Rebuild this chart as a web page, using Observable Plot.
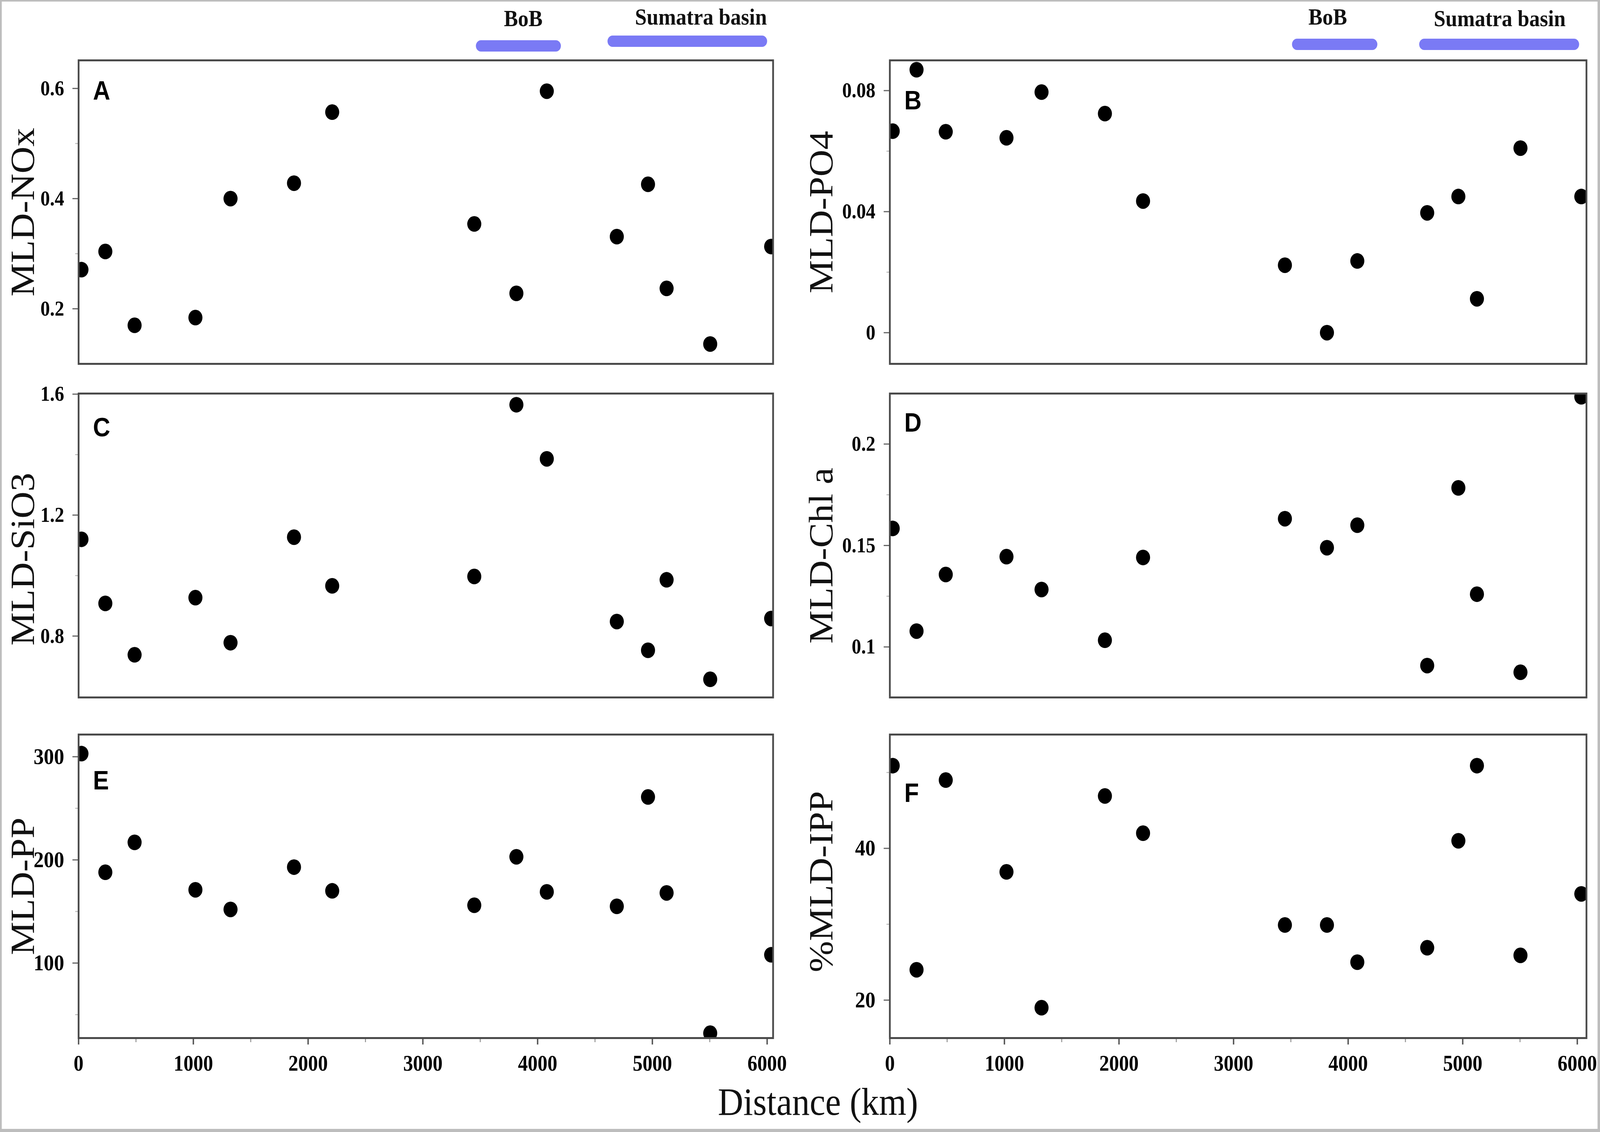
<!DOCTYPE html>
<html>
<head>
<meta charset="utf-8">
<script src="https://cdn.jsdelivr.net/npm/d3@7"></script>
<script src="https://cdn.jsdelivr.net/npm/@observablehq/plot@0.6"></script>
<style>
  html, body { margin: 0; padding: 0; background: #fff; overflow: hidden; }
  #page { position: relative; width: 4550px; height: 2898px; background: #fff; overflow: hidden; transform-origin: 0 0; }
  #border { position: absolute; left: 0; top: 0; width: 4550px; height: 2898px; box-sizing: border-box;
            border-style: solid; border-color: #bdbdbd; border-width: 4px 7px 8px 5px; pointer-events: none; }
  .panel { position: absolute; }
  #xtitle { position: absolute; left: 2326px; top: 2771px; transform: translateX(-50%);
            font-family: "Liberation Serif", serif; font-size: 100px; line-height: 1; white-space: nowrap; color: #111; }
</style>
</head>
<body>
<div id="page">
  <div id="xtitle">Distance (km)</div>
  <div id="border"></div>
</div>
<script>
// ---- data ----
const distance = [25, 233, 488, 1018, 1324, 1877, 2210, 3448, 3815, 4080, 4690, 4962, 5124, 5504, 6035];
const nox  = [0.271, 0.304, 0.170, 0.184, 0.400, 0.428, 0.557, 0.354, 0.228, 0.595, 0.331, 0.426, 0.237, 0.136, 0.313];
const po4  = [0.0666, 0.0869, 0.0664, 0.0644, 0.0795, 0.0724, 0.0435, 0.0223, 0.0, 0.0237, 0.0396, 0.0450, 0.0112, 0.0610, 0.0450];
const sio3 = [1.120, 0.908, 0.738, 0.927, 0.778, 1.127, 0.966, 0.997, 1.565, 1.386, 0.848, 0.753, 0.986, 0.657, 0.858];
const chla = [0.1584, 0.1078, 0.1357, 0.1445, 0.1283, 0.1033, 0.1441, 0.1632, 0.1489, 0.1600, 0.0908, 0.1784, 0.1260, 0.0875, 0.2233];
const pp   = [303, 188, 217, 171, 152, 193, 170, 156, 203, 169, 155, 261, 168, 32, 108];
const ipp  = [50.9, 24.0, 49.0, 36.9, 19.0, 46.9, 42.0, 29.9, 29.9, 25.0, 26.9, 41.0, 50.9, 25.9, 34.0];

const xTicks = [0, 1000, 2000, 3000, 4000, 5000, 6000];
const xMinorTicks = [500, 1500, 2500, 3500, 4500, 5500];

const regionNames = ["BoB", "Sumatra basin"];
const regionStartA = [3508, 4655], regionEndA = [4160, 5957], regionLabelA = [3875, 5423];
const regionStartB = [3556, 4666], regionEndB = [4212, 5973], regionLabelB = [3822, 5323];

const table = (vals) => distance.map((d, i) => ({distance: d, value: vals[i]}));
const regions = (s, e, l) => regionNames.map((n, i) => ({name: n, start: s[i], end: e[i], labelX: l[i]}));

// ---- layout (designed on a 4550 x 2898 page) ----
const cols = [
  {left: 0,    width: 2275, marginLeft: 223, marginRight: 77, labelDx: -127, xMax: 6052},
  {left: 2275, width: 2275, marginLeft: 255, marginRight: 39, labelDx: -163, xMax: 6080}
];
const rows = [
  {top: 0,    height: 960, marginTop: 154, marginBottom: 29},
  {top: 960,  height: 880, marginTop: 47,  marginBottom: 55},
  {top: 1840, height: 960, marginTop: 40,  marginBottom: 143}
];

const panels = [
  {id: "A", title: "MLD-NOx",  data: table(nox),  domain: [0.100, 0.651], major: [0.2, 0.4, 0.6], minor: [0.3, 0.5],
   col: 0, row: 0, letterDy: 100, titleDy: 0, tickFont: 54,
   regions: regions(regionStartA, regionEndA, regionLabelA), barDy: [-37, -49], regionLabelDy: [-88, -92]},
  {id: "B", title: "MLD-PO4",  data: table(po4),  domain: [-0.0103, 0.090], major: [0, 0.04, 0.08], minor: [0.02, 0.06],
   col: 1, row: 0, letterDy: 125, titleDy: 0, tickFont: 54,
   regions: regions(regionStartB, regionEndB, regionLabelB), barDy: [-41, -41], regionLabelDy: [-92, -88]},
  {id: "C", title: "MLD-SiO3", data: table(sio3), domain: [0.597, 1.602], major: [0.8, 1.2, 1.6], minor: [1.0, 1.4],
   col: 0, row: 1, letterDy: 109, titleDy: 35, tickFont: 54},
  {id: "D", title: "MLD-Chl a", data: table(chla), domain: [0.0751, 0.2249], major: [0.1, 0.15, 0.2], minor: [0.125, 0.175],
   col: 1, row: 1, letterDy: 97, titleDy: 26, tickFont: 54},
  {id: "E", title: "MLD-PP",   data: table(pp),   domain: [27.3, 321.5], major: [100, 200, 300], minor: [50, 150, 250],
   col: 0, row: 2, letterDy: 140, titleDy: 0, tickFont: 58},
  {id: "F", title: "%MLD-IPP", data: table(ipp),  domain: [15.0, 55.0], major: [20, 40], minor: [30, 50],
   col: 1, row: 2, letterDy: 172, titleDy: -12, tickFont: 58}
];

const serif = "Liberation Serif, Times New Roman, serif";
const page = document.getElementById("page");

for (const p of panels) {
  const c = cols[p.col], r = rows[p.row];
  const bottom = p.row === 2;
  const marks = [];

  // y axis: major + minor ticks
  marks.push(Plot.axisY({ticks: p.major, tickSize: 17, tickPadding: 24, tickFormat: d => `${d}`, label: null,
    fontSize: p.tickFont, fontWeight: "bold", fontFamily: serif, stroke: "#666", strokeWidth: 3}));
  marks.push(Plot.axisY({ticks: p.minor, tickSize: 9, tickFormat: () => "", label: null, stroke: "#aaa", strokeWidth: 2}));

  // x axis only on the bottom row
  if (bottom) {
    marks.push(Plot.axisX({ticks: xTicks, tickSize: 17, tickPadding: 27, tickFormat: d => `${d}`, label: null,
      fontSize: 56, fontWeight: "bold", fontFamily: serif, stroke: "#555", strokeWidth: 4}));
    marks.push(Plot.axisX({ticks: xMinorTicks, tickSize: 11, tickFormat: () => "", label: null, stroke: "#999", strokeWidth: 3}));
  }

  // data points
  marks.push(Plot.dot(p.data, {x: "distance", y: "value", r: 20, fill: "black", stroke: "none", clip: true}));

  // frame
  marks.push(Plot.frame({stroke: "#4a4a4a", strokeWidth: 5}));

  // panel letter
  marks.push(Plot.text([p.id], {text: d => d, frameAnchor: "top-left", dx: 41, dy: p.letterDy, lineAnchor: "bottom",
    textAnchor: "start", fontFamily: "Liberation Sans, Arial, sans-serif", fontWeight: "bold", fontSize: 68, fill: "black"}));

  // y title
  marks.push(Plot.text([p.title], {text: d => d, frameAnchor: "left", rotate: -90, dx: c.labelDx, dy: p.titleDy,
    lineAnchor: "bottom", textAnchor: "middle", fontFamily: serif, fontSize: 96, fill: "#111"}));

  // regions (BoB, Sumatra basin) above the top panels
  if (p.regions) {
    p.regions.forEach((reg, i) => {
      marks.push(Plot.ruleY([reg], {x1: "start", x2: "end", y: () => p.domain[1], dy: p.barDy[i],
        stroke: "#7a7af5", strokeWidth: 29, strokeLinecap: "round"}));
      marks.push(Plot.text([reg], {x: "labelX", text: "name", frameAnchor: "top", dy: p.regionLabelDy[i],
        lineAnchor: "bottom", textAnchor: "middle", fontFamily: serif, fontWeight: "bold", fontSize: 60, fill: "#111"}));
    });
  }

  const chart = Plot.plot({
    width: c.width, height: r.height,
    marginLeft: c.marginLeft, marginRight: c.marginRight, marginTop: r.marginTop, marginBottom: r.marginBottom,
    style: {background: "transparent", color: "black", fontFamily: serif},
    x: {type: "linear", domain: [0, c.xMax], axis: bottom ? undefined : null},
    y: {type: "linear", domain: p.domain},
    marks
  });

  const holder = document.createElement("div");
  holder.className = "panel";
  holder.style.left = c.left + "px";
  holder.style.top = r.top + "px";
  holder.appendChild(chart);
  page.insertBefore(holder, document.getElementById("xtitle"));
}

// fit the 4550-wide design into the actual viewport (keep full height)
const sx = Math.min(1, (window.innerWidth || 4550) / 4550);
const sy = Math.min(1, (window.innerHeight || 2898) / 2898);
if (sx < 1 || sy < 1) page.style.transform = `scale(${sx}, ${sy})`;
</script>
</body>
</html>
